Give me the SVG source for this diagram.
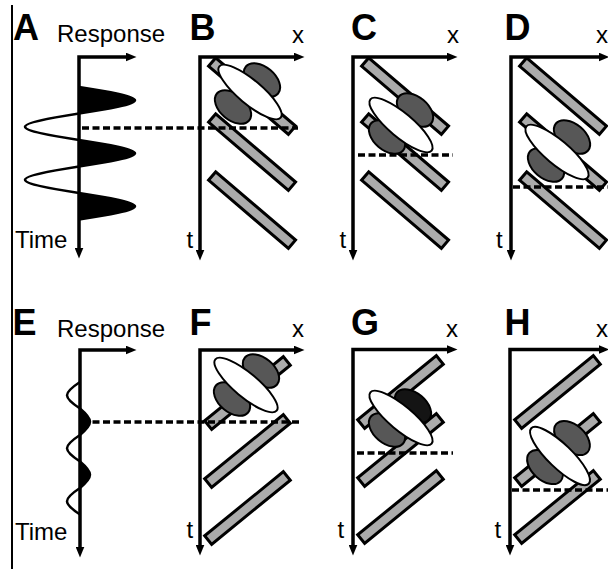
<svg xmlns="http://www.w3.org/2000/svg" xmlns:xlink="http://www.w3.org/1999/xlink" width="608" height="569" viewBox="0 0 608 569">
<defs>
<style>
.axis{fill:none;stroke:#000;stroke-width:3.5;stroke-linejoin:miter;marker-start:url(#ah);marker-end:url(#ah)}
.bar{fill:#ababab;stroke:#000;stroke-width:3}
.dk{fill:#575757;stroke:#000;stroke-width:2}
.bk{fill:#141414;stroke:#000;stroke-width:2}
.wh{fill:#fff;stroke:#000;stroke-width:2}
.dash{fill:none;stroke:#000;stroke-width:3.5;stroke-dasharray:7 3.5}
.wave{fill:none;stroke:#000;stroke-width:2.5}
.lobe{fill:#000;stroke:none}
.lbl{font-family:"Liberation Sans",Arial,sans-serif;font-weight:bold;font-size:36px;fill:#000}
.txt{font-family:"Liberation Sans",Arial,sans-serif;font-size:24px;fill:#000}
</style>
<marker id="ah" viewBox="0 0 10 10" refX="5" refY="5" markerWidth="11" markerHeight="9" markerUnits="userSpaceOnUse" orient="auto-start-reverse" preserveAspectRatio="none"><path d="M0,0 L10,5 L0,10 Z"/></marker>
<g id="barsDown">
<rect class="bar" x="1.5" y="-5.5" width="105" height="11" transform="translate(11,4) rotate(40.5)"/>
<rect class="bar" x="1.5" y="-5.5" width="105" height="11" transform="translate(11,60) rotate(40.5)"/>
<rect class="bar" x="1.5" y="-5.5" width="105" height="11" transform="translate(11,118) rotate(40.5)"/>
</g>
<g id="barsUp">
<rect class="bar" x="1.5" y="-5.5" width="101.5" height="11" transform="translate(7,76) rotate(-39.2)"/>
<rect class="bar" x="1.5" y="-5.5" width="101.5" height="11" transform="translate(7,134) rotate(-39.2)"/>
<rect class="bar" x="1.5" y="-5.5" width="101.5" height="11" transform="translate(7,191) rotate(-39.2)"/>
</g>
</defs>
<rect width="608" height="569" fill="#fff"/>
<line x1="12" y1="5" x2="12" y2="569" stroke="#000" stroke-width="2"/>

<g id="panelA">
<text class="lbl" x="13" y="40">A</text>
<text class="txt" x="57" y="42">Response</text>
<text class="txt" x="15" y="248">Time</text>
<path class="lobe" d="M79,87 C107.6,91.31 135,95.94 135,100.25 C135,104.56 107.6,109.19 79,113.5 Z"/>
<path class="lobe" d="M79,140 C107.6,144.31 135,148.94 135,153.25 C135,157.56 107.6,162.19 79,166.5 Z"/>
<path class="lobe" d="M79,193 C107.6,197.31 135,201.94 135,206.25 C135,210.56 107.6,215.19 79,219.5 Z"/>
<path class="wave" d="M79,87 C107.6,91.31 135,95.94 135,100.25 C135,104.56 107.6,109.19 79,113.5 C51.4,117.81 25,122.44 25,126.75 C25,131.06 51.4,135.69 79,140 C107.6,144.31 135,148.94 135,153.25 C135,157.56 107.6,162.19 79,166.5 C51.4,170.81 25,175.44 25,179.75 C25,184.06 51.4,188.69 79,193 C107.6,197.31 135,201.94 135,206.25 C135,210.56 107.6,215.19 79,219.5"/>
<path class="axis" d="M79,253 L79,57 L131,57"/>
</g>

<g id="panelB">
<text class="lbl" x="189.5" y="40">B</text>
<text class="txt" x="292" y="43">x</text>
<text class="txt" x="186.5" y="248">t</text>
<use xlink:href="#barsDown" x="200" y="57"/>
<ellipse class="dk" cx="262" cy="80" rx="21" ry="13" transform="rotate(40 262 80)"/>
<ellipse class="dk" cx="233" cy="107" rx="21" ry="13" transform="rotate(40 233 107)"/>
<ellipse class="wh" cx="250" cy="92" rx="40" ry="12" transform="rotate(40 250 92)"/>
<path class="axis" d="M200,255 L200,57 L299,57"/>
</g>

<g id="panelC">
<text class="lbl" x="351" y="40">C</text>
<text class="txt" x="447" y="43">x</text>
<text class="txt" x="339.5" y="248">t</text>
<use xlink:href="#barsDown" x="353" y="57"/>
<ellipse class="dk" cx="415" cy="110" rx="21" ry="13" transform="rotate(40 415 110)"/>
<ellipse class="dk" cx="387" cy="137" rx="21" ry="13" transform="rotate(40 387 137)"/>
<ellipse class="wh" cx="401" cy="125" rx="40" ry="12" transform="rotate(40 401 125)"/>
<path class="axis" d="M353,255 L353,57 L452,57"/>
</g>

<g id="panelD">
<text class="lbl" x="504.5" y="40">D</text>
<text class="txt" x="596" y="43">x</text>
<text class="txt" x="496" y="248">t</text>
<use xlink:href="#barsDown" x="511" y="57"/>
<ellipse class="dk" cx="572" cy="137" rx="21" ry="13" transform="rotate(40 572 137)"/>
<ellipse class="dk" cx="546" cy="165" rx="21" ry="13" transform="rotate(40 546 165)"/>
<ellipse class="wh" cx="557" cy="152" rx="40" ry="12" transform="rotate(40 557 152)"/>
<path class="axis" d="M511,255 L511,57 L604,57"/>
</g>

<g id="panelE">
<text class="lbl" x="12.5" y="335">E</text>
<text class="txt" x="57" y="337">Response</text>
<text class="txt" x="15" y="540">Time</text>
<path class="lobe" d="M80,408.5 C85.1,412.81 90,417.44 90,421.75 C90,426.06 85.1,430.69 80,435 Z"/>
<path class="lobe" d="M80,461.5 C85.1,465.81 90,470.44 90,474.75 C90,479.06 85.1,483.69 80,488 Z"/>
<path class="wave" stroke-width="3" d="M80,382 C73.4,386.31 67,390.94 67,395.25 C67,399.56 73.4,404.19 80,408.5 C85.1,412.81 90,417.44 90,421.75 C90,426.06 85.1,430.69 80,435 C73.4,439.31 67,443.94 67,448.25 C67,452.56 73.4,457.19 80,461.5 C85.1,465.81 90,470.44 90,474.75 C90,479.06 85.1,483.69 80,488 C73.4,492.31 67,496.94 67,501.25 C67,505.56 73.4,510.19 80,514.5"/>
<path class="axis" d="M80,552 L80,350 L131,350"/>
</g>

<g id="panelF">
<text class="lbl" x="189.5" y="335">F</text>
<text class="txt" x="292" y="337">x</text>
<text class="txt" x="186.5" y="538">t</text>
<use xlink:href="#barsUp" x="200" y="350"/>
<ellipse class="dk" cx="261" cy="371" rx="21" ry="13" transform="rotate(40 261 371)"/>
<ellipse class="dk" cx="232" cy="399" rx="21" ry="13" transform="rotate(40 232 399)"/>
<ellipse class="wh" cx="246" cy="385" rx="40" ry="12" transform="rotate(40 246 385)"/>
<path class="axis" d="M200,550 L200,350 L299,350"/>
</g>

<g id="panelG">
<text class="lbl" x="351" y="335">G</text>
<text class="txt" x="446" y="337">x</text>
<text class="txt" x="337.5" y="538">t</text>
<use xlink:href="#barsUp" x="353" y="349"/>
<ellipse class="bk" cx="413" cy="406" rx="21" ry="13" transform="rotate(40 413 406)"/>
<ellipse class="dk" cx="387" cy="430" rx="21" ry="13" transform="rotate(40 387 430)"/>
<ellipse class="wh" cx="401" cy="418" rx="40" ry="12" transform="rotate(40 401 418)"/>
<path class="axis" d="M353,550 L353,349.5 L452,349.5"/>
</g>

<g id="panelH">
<text class="lbl" x="504.5" y="335">H</text>
<text class="txt" x="596" y="337">x</text>
<text class="txt" x="494.5" y="538">t</text>
<use xlink:href="#barsUp" x="510" y="349"/>
<ellipse class="dk" cx="572" cy="438" rx="21" ry="13" transform="rotate(42 572 438)"/>
<ellipse class="dk" cx="545" cy="467" rx="21" ry="13" transform="rotate(42 545 467)"/>
<ellipse class="wh" cx="560" cy="456" rx="40" ry="12" transform="rotate(44 560 456)"/>
<path class="axis" d="M510,550 L510,349.5 L604,349.5"/>
</g>

<g id="connectors">
<line class="dash" x1="82" y1="128" x2="298" y2="128"/>
<line class="dash" x1="358" y1="155" x2="453" y2="155"/>
<line class="dash" x1="513" y1="187" x2="608" y2="187"/>
<line class="dash" x1="82" y1="422" x2="300" y2="422"/>
<line class="dash" x1="357" y1="453" x2="453" y2="453"/>
<line class="dash" x1="512" y1="490" x2="608" y2="490"/>
</g>
</svg>
